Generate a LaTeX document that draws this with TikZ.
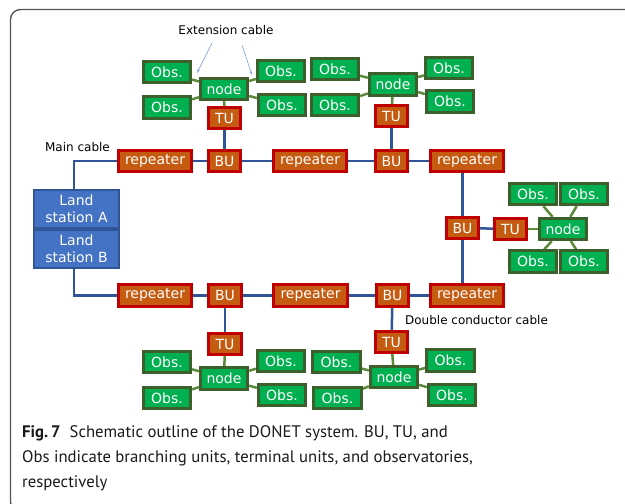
\documentclass[tikz,border=0pt]{standalone}
\usepackage{fontspec}
\setmainfont{DejaVu Sans}
\newfontfamily\capfont{PT Sans}
\usetikzlibrary{backgrounds,arrows.meta}
\definecolor{boxor}{HTML}{C55A11}
\definecolor{boxred}{HTML}{C00000}
\definecolor{gfill}{HTML}{00B050}
\definecolor{gborder}{HTML}{3D5F2C}
\definecolor{cgreen}{HTML}{5B8A3A}
\definecolor{cblue}{HTML}{2F5597}
\definecolor{landfill}{HTML}{4472C4}
\definecolor{landborder}{HTML}{2F5597}
\definecolor{arrowc}{HTML}{8FAADC}
\definecolor{framec}{HTML}{555555}
\begin{document}
\begin{tikzpicture}[x=1pt,y=-1pt,
  boxtxt/.style={text=white,font=\fontsize{14}{17}\selectfont,inner sep=0pt},
  rbox/.style={boxtxt,draw=boxred,fill=boxor,line width=2.8pt,minimum height=21.5pt},
  rep/.style={rbox,minimum width=73.5pt},
  bu/.style={rbox,minimum width=32.5pt},
  gbox/.style={boxtxt,draw=gborder,fill=gfill,line width=2.8pt,minimum width=47.5pt,minimum height=21.5pt},
  land/.style={boxtxt,draw=landborder,fill=landfill,line width=2pt,minimum width=85pt,minimum height=38pt,align=center},
  maincab/.style={draw=cblue,line width=2.5pt},
  extcab/.style={draw=cgreen,line width=2.5pt},
  lbl/.style={font=\fontsize{12}{14}\selectfont,inner sep=0pt,text=black},
  caption/.style={font=\capfont\fontsize{16.7}{25}\selectfont,inner sep=0pt,anchor=base west,text=black!90},
  extarrow/.style={draw=arrowc,line width=0.7pt,-{Stealth[length=4pt,width=3pt]}}
]
\clip (0,0) rectangle (625,504);
\draw[framec,line width=1.4pt,rounded corners=10pt] (10.5,9.5) rectangle (660,512);

% main row top
\node[rep] (rep1) at (155,161) {repeater};
\node[bu]  (bu1)  at (224.5,161) {BU};
\node[rep] (rep2) at (310,161) {repeater};
\node[bu]  (bu2)  at (391.5,161) {BU};
\node[rep] (rep3) at (467,161) {repeater};
% main row bottom
\node[rep] (rep4) at (155,295.5) {repeater};
\node[bu]  (bu4)  at (225,295.5) {BU};
\node[rep] (rep5) at (310.5,295.5) {repeater};
\node[bu]  (bu5)  at (392.5,295.5) {BU};
\node[rep] (rep6) at (467,295.5) {repeater};
% land station
\node[land] (la) at (76.5,209) {Land\\station A};
\node[land] (lb) at (76.5,249) {Land\\station B};
% top-left cluster
\node[bu]   (tu1) at (224.5,118) {TU};
\node[gbox] (nd1) at (224,89) {node};
\node[gbox] (o1) at (167,72) {Obs.};
\node[gbox] (o2) at (167,107.5) {Obs.};
\node[gbox] (o3) at (281,71) {Obs.};
\node[gbox] (o4) at (282,105) {Obs.};
% top-right cluster
\node[bu]   (tu2) at (391.5,116) {TU};
\node[gbox] (nd2) at (393,84.5) {node};
\node[gbox] (o5) at (335,69) {Obs.};
\node[gbox] (o6) at (335,105) {Obs.};
\node[gbox] (o7) at (449,68) {Obs.};
\node[gbox] (o8) at (450,101.5) {Obs.};
% right cluster
\node[bu]   (bu3) at (462.5,228) {BU};
\node[bu]   (tu3) at (510.5,229) {TU};
\node[gbox] (nd3) at (563,229) {node};
\node[gbox] (o9)  at (533,194) {Obs.};
\node[gbox] (o10) at (584,194) {Obs.};
\node[gbox] (o11) at (533,261.5) {Obs.};
\node[gbox] (o12) at (584,261.5) {Obs.};
% bottom-left cluster
\node[bu]   (tu4) at (225,344) {TU};
\node[gbox] (nd4) at (224,378.5) {node};
\node[gbox] (o13) at (167,362) {Obs.};
\node[gbox] (o14) at (167,398) {Obs.};
\node[gbox] (o15) at (281,361) {Obs.};
\node[gbox] (o16) at (282,395) {Obs.};
% bottom-right cluster
\node[bu]   (tu5) at (391.5,342) {TU};
\node[gbox] (nd5) at (394,377) {node};
\node[gbox] (o17) at (336.5,362) {Obs.};
\node[gbox] (o18) at (337.5,398) {Obs.};
\node[gbox] (o19) at (450.5,360.5) {Obs.};
\node[gbox] (o20) at (452,395) {Obs.};

\begin{pgfonlayer}{background}
  % main cable
  \draw[maincab] ([xshift=-2.5pt]la.north) |- (rep1.west);
  \draw[maincab] ([xshift=-2.5pt]lb.south) |- (rep4.west);
  \draw[maincab] (rep1) -- (bu1);
  \draw[maincab] (bu1) -- (rep2);
  \draw[maincab] (rep2) -- (bu2);
  \draw[maincab] (bu2) -- (rep3);
  \draw[maincab] (rep4) -- (bu4);
  \draw[maincab] (bu4) -- (rep5);
  \draw[maincab] (rep5) -- (bu5);
  \draw[maincab] (bu5) -- (rep6);
  \draw[maincab] (rep3.south -| bu3) -- (bu3);
  \draw[maincab] (bu3) -- (rep6.north -| bu3);
  \draw[maincab] (bu1) -- (tu1);
  \draw[maincab] (bu2) -- (tu2);
  \draw[maincab] (bu4) -- (tu4);
  \draw[maincab] (bu5) -- (tu5);
  \draw[maincab] (bu3) -- (tu3);
  % extension cables
  \draw[extcab] (tu1) -- (nd1);
  \draw[extcab] (tu2) -- (nd2);
  \draw[extcab] (tu3) -- (nd3);
  \draw[extcab] (tu4) -- (nd4);
  \draw[extcab] (tu5) -- (nd5);
  \foreach \n/\o in {nd1/o1,nd1/o2,nd1/o3,nd1/o4,nd2/o5,nd2/o6,nd2/o7,nd2/o8,
                     nd3/o9,nd3/o10,nd3/o11,nd3/o12,nd4/o13,nd4/o14,nd4/o15,nd4/o16,
                     nd5/o17,nd5/o18,nd5/o19,nd5/o20}
    \draw[extcab] (\n) -- (\o);
\end{pgfonlayer}

% labels
\node[lbl] (extlbl) at (226,30) {Extension cable};
\node[lbl] (mainlbl) at (77.5,147) {Main cable};
\node[lbl] (dbllbl) at (476.5,320) {Double conductor cable};
\coordinate (ea1s) at (212,43);
\coordinate (ea1e) at (197,73);
\coordinate (ea2s) at (242,45);
\coordinate (ea2e) at (252,75);
\draw[extarrow] (ea1s) -- (ea1e);
\draw[extarrow] (ea2s) -- (ea2e);

% caption
\node[caption] (cap1) at (22,437.5) {\textbf{Fig.\,7}\hspace{0.55em}Schematic outline of the DONET system. BU, TU, and};
\node[caption] (cap2) at (22,462.5) {Obs indicate branching units, terminal units, and observatories,};
\node[caption] (cap3) at (22,487.5) {respectively};
\end{tikzpicture}
\end{document}
